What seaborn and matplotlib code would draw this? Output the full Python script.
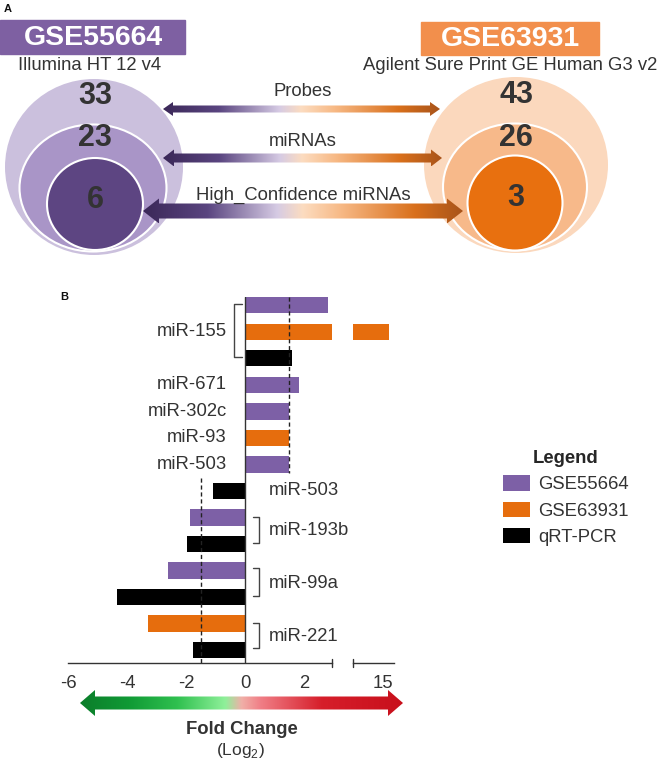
import numpy as np
import pandas as pd
import matplotlib.pyplot as plt
import seaborn as sns
from matplotlib.patches import Rectangle, Ellipse, Polygon, Patch
from matplotlib.colors import LinearSegmentedColormap

# ---- panel A data ----
level_names = ["Probes", "miRNAs", "High_Confidence miRNAs"]
counts_gse55664 = [33, 23, 6]
counts_gse63931 = [43, 26, 3]

# ---- panel B data (one bar per row, top to bottom) ----
rows = [str(i) for i in range(14)]
datasets = ["GSE55664", "GSE63931", "qRT-PCR",
            "GSE55664", "GSE55664", "GSE63931", "GSE55664",
            "qRT-PCR", "GSE55664", "qRT-PCR", "GSE55664", "qRT-PCR",
            "GSE63931", "qRT-PCR"]
log2_fc = [2.81, 15.2, 1.59,
           1.83, 1.49, 1.49, 1.49,
           -1.09, -1.86, -1.98, -2.61, -4.34,
           -3.30, -1.76]
left_labels = ["miR-155", "miR-671", "miR-302c", "miR-93", "miR-503"]
left_label_rows = [1, 3, 4, 5, 6]
right_labels = ["miR-503", "miR-193b", "miR-99a", "miR-221"]
right_label_rows = [7, 8.5, 10.5, 12.5]
left_brackets = [(-0.04, 1.96)]
right_brackets = [(8.0, 8.98), (9.92, 10.98), (12.0, 12.94)]
main_ticks = [-6, -4, -2, 0, 2]
break_ticks = [15]

palette = {"GSE55664": "#7d60a6", "GSE63931": "#e66d0d", "qRT-PCR": "#000000"}

W, H = 661, 762
FS = 13.3


def rect(x0, y0, x1, y1):
    return [x0 / W, 1 - y1 / H, (x1 - x0) / W, (y1 - y0) / H]


def gradient_arrow(ax, x0, x1, y, shaft, head, head_len, cmap):
    verts = [(x0, y), (x0 + head_len, y - head), (x0 + head_len, y - shaft),
             (x1 - head_len, y - shaft), (x1 - head_len, y - head), (x1, y),
             (x1 - head_len, y + head), (x1 - head_len, y + shaft),
             (x0 + head_len, y + shaft), (x0 + head_len, y + head)]
    poly = Polygon(verts, closed=True, facecolor="none", edgecolor="none")
    ax.add_patch(poly)
    grad = np.linspace(0, 1, 256).reshape(1, -1)
    im = ax.imshow(grad, cmap=cmap, extent=(x0, x1, y + head, y - head),
                   aspect="auto", interpolation="bilinear", zorder=3)
    im.set_clip_path(poly)


def main() -> None:
    sns.set_theme(style="white")
    plt.rcParams["font.family"] = ["Liberation Sans", "DejaVu Sans"]
    txt = "#333333"

    fig = plt.figure(figsize=(W / 100, H / 100), dpi=100)

    # background axes in pixel coordinates for panel A and decorations
    bg = fig.add_axes([0, 0, 1, 1])
    bg.set_xlim(0, W)
    bg.set_ylim(H, 0)
    bg.axis("off")

    bg.text(8, 9, "A", fontsize=8, fontweight="bold", ha="center", va="center", color="#111")
    bg.text(64, 297, "B", fontsize=8, fontweight="bold", ha="center", va="center", color="#111")

    # dataset headers
    bg.add_patch(Rectangle((0, 20), 185, 34, color="#7e60a2"))
    bg.text(93, 38, "GSE55664", color="white", fontsize=20.5, fontweight="bold", ha="center", va="center")
    bg.text(90, 66, "Illumina HT 12 v4", color=txt, fontsize=FS, ha="center", va="center")
    bg.add_patch(Rectangle((421, 22), 178, 33, color="#f28f4c"))
    bg.text(510, 39, "GSE63931", color="white", fontsize=20.5, fontweight="bold", ha="center", va="center")
    bg.text(510, 66, "Agilent Sure Print GE Human G3 v2", color=txt, fontsize=FS, ha="center", va="center")

    # nested circles
    left_shapes = [((94, 167), 178, 176, "#cbc0dd"), ((93, 188), 147, 127, "#a995c7"), ((95, 204), 96, 92, "#5d4582")]
    right_shapes = [((516, 165), 184, 176, "#fbd8bd"), ((515, 187), 144, 127, "#f7b98a"), ((515, 203), 95, 95, "#e8700f")]
    for i, (c, w, h, col) in enumerate(left_shapes):
        bg.add_patch(Ellipse(c, w, h, facecolor=col, edgecolor="white" if i else "none", lw=1.5))
    for i, (c, w, h, col) in enumerate(right_shapes):
        bg.add_patch(Ellipse(c, w, h, facecolor=col, edgecolor="white" if i else "none", lw=1.5))
    for n, y in zip(counts_gse55664, [96, 138, 200]):
        bg.text(95, y, str(n), fontsize=22, fontweight="bold", color=txt, ha="center", va="center", zorder=5)
    for n, y in zip(counts_gse63931, [95, 138, 198]):
        bg.text(516, y, str(n), fontsize=22, fontweight="bold", color=txt, ha="center", va="center", zorder=5)

    # gradient arrows between the datasets
    cmap_a = LinearSegmentedColormap.from_list(
        "pa", [(0, "#3b2858"), (0.2, "#5a4580"), (0.42, "#d6cbe4"), (0.5, "#fcdcc0"),
               (0.62, "#f7b985"), (0.85, "#d9701c"), (1, "#a9541a")])
    arrow_geo = [(163, 440, 109, 3.5, 7, 10), (163, 442, 158, 4.5, 8.5, 11), (143, 463, 211, 7.5, 12.5, 16)]
    label_y = [92, 142, 195]
    for name, (x0, x1, y, s, hw, hl), ly in zip(level_names, arrow_geo, label_y):
        gradient_arrow(bg, x0, x1, y, s, hw, hl, cmap_a)
        bg.text(303, ly, name, fontsize=FS, color=txt, ha="center", va="center", zorder=5)

    # fold-change arrow at the bottom
    cmap_b = LinearSegmentedColormap.from_list(
        "fc", [(0, "#0b7d2a"), (0.15, "#109a35"), (0.3, "#2fc04f"), (0.45, "#8ff09a"),
               (0.5, "#f0b0a8"), (0.56, "#f07e86"), (0.75, "#d61e2a"), (1, "#c8101c")])
    gradient_arrow(bg, 80, 403, 703, 6.5, 13, 15, cmap_b)
    bg.text(242, 730, "Fold Change", fontsize=FS, fontweight="bold", color=txt, ha="center", va="center")
    bg.text(240, 750, "(Log$_{\\mathregular{2}}$)", fontsize=12.5, color=txt, ha="center", va="center")
    bg.set_xlim(0, W)
    bg.set_ylim(H, 0)

    # ---- panel B bar chart with broken x axis ----
    df = pd.DataFrame({"row": rows, "log2fc": log2_fc, "dataset": datasets})
    ax = fig.add_axes(rect(68, 297, 332, 663))
    ax2 = fig.add_axes(rect(353, 297, 394, 663))
    for a in (ax, ax2):
        sns.barplot(data=df, x="log2fc", y="row", hue="dataset", order=rows,
                    hue_order=list(palette), palette=palette, dodge=False, width=0.62,
                    orient="h", saturation=1, linewidth=0, errorbar=None, legend=False, ax=a)
        a.patch.set_alpha(0)
        a.set_ylim(13.49, -0.31)
        a.set_yticks([])
        a.set_xlabel("")
        a.set_ylabel("")
        for s in ("left", "top", "right"):
            a.spines[s].set_visible(False)
        a.spines["bottom"].set_color(txt)
        a.spines["bottom"].set_linewidth(1)
        a.tick_params(axis="x", length=0, pad=9, labelsize=FS, labelcolor=txt)

    ax.set_xlim(-6, 2.95)
    ax.set_xticks(main_ticks)
    ax.set_xticklabels([str(t) for t in main_ticks])
    ax2.set_xlim(13.98, 15.37)
    ax2.set_xticks(break_ticks)
    ax2.set_xticklabels([str(t) for t in break_ticks])

    d = 0.012
    ax.plot([1, 1], [-d, d], transform=ax.transAxes, color=txt, lw=1, clip_on=False)
    ax2.plot([0, 0], [-d, d], transform=ax2.transAxes, color=txt, lw=1, clip_on=False)

    ax.axvline(0, color=txt, lw=1)
    ax.plot([1.5, 1.5], [-0.31, 6.31], ls=(0, (3, 2)), color="#222", lw=1)
    ax.plot([-1.5, -1.5], [6.53, 13.49], ls=(0, (3, 2)), color="#222", lw=1)

    for lab, r in zip(left_labels, left_label_rows):
        ax.text(-0.61, r, lab, fontsize=FS, color=txt, ha="right", va="center")
    for lab, r in zip(right_labels, right_label_rows):
        ax.text(0.81, r, lab, fontsize=FS, color=txt, ha="left", va="center", clip_on=False)
    for y0, y1 in left_brackets:
        ax.plot([-0.1, -0.38, -0.38, -0.1], [y0, y0, y1, y1], color="#444", lw=1)
    for y0, y1 in right_brackets:
        ax.plot([0.27, 0.47, 0.47, 0.27], [y0, y0, y1, y1], color="#444", lw=1)

    handles = [Patch(facecolor=c, edgecolor="none", label=k) for k, c in palette.items()]
    fig.legend(handles=handles, title="Legend", loc="upper left",
               bbox_to_anchor=(503 / W, 1 - 450 / H), frameon=False, fontsize=FS,
               title_fontproperties={"weight": "bold", "size": FS},
               handlelength=1.45, handleheight=0.9, handletextpad=0.45,
               labelspacing=0.45, borderpad=0, borderaxespad=0, labelcolor=txt)

    fig.savefig("out.png", dpi=100)
    plt.close(fig)


if __name__ == "__main__":
    main()
